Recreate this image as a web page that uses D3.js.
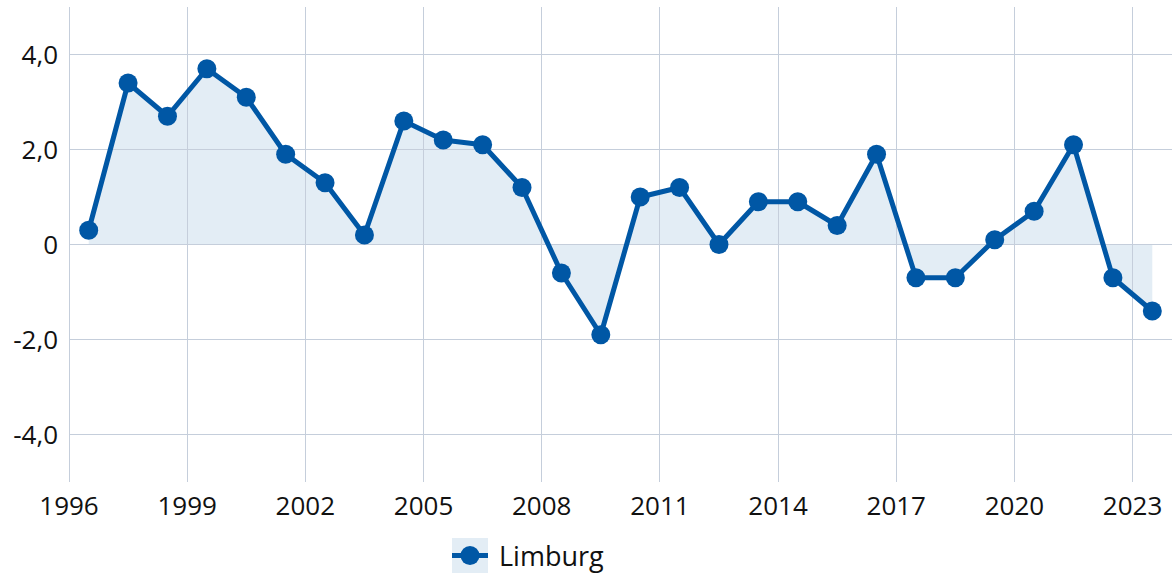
<!DOCTYPE html>
<html><head><meta charset="utf-8">
<script src="https://cdn.jsdelivr.net/npm/d3@7"></script>
<style>
body{margin:0;background:#fff;}
svg{display:block;font-family:"Open Sans","Noto Sans",sans-serif;}
</style></head>
<body>
<svg id="chart" width="1172" height="575"></svg>
<script>
const years = [1996,1997,1998,1999,2000,2001,2002,2003,2004,2005,2006,2007,2008,2009,2010,2011,2012,2013,2014,2015,2016,2017,2018,2019,2020,2021,2022,2023];
const values = [0.3,3.4,2.7,3.7,3.1,1.9,1.3,0.2,2.6,2.2,2.1,1.2,-0.6,-1.9,1.0,1.2,0.0,0.9,0.9,0.4,1.9,-0.7,-0.7,0.1,0.7,2.1,-0.7,-1.4];
const xTicks = [1996,1999,2002,2005,2008,2011,2014,2017,2020,2023];
const yTicks = [-4,-2,0,2,4];
const yTickLabels = ["-4,0","-2,0","0","2,0","4,0"];
const seriesName = "Limburg";

const color = "#0057a5";
const svg = d3.select("#chart");
const m = {left:69, right:1172, top:7, bottom:482};
const x = d3.scaleLinear().domain([1996,2024]).range([m.left, m.right]);
const y = d3.scaleLinear().domain([-5,5]).range([m.bottom, m.top]);
const data = years.map((yr,i)=>({x:yr+0.5, v:values[i]}));

// fill
svg.append("path").datum(data)
  .attr("d", d3.area().x(d=>x(d.x)).y0(y(0)).y1(d=>y(d.v)))
  .attr("fill", color).attr("fill-opacity", 0.11);

// grid
const g = svg.append("g");
g.selectAll("line.h").data(yTicks).join("line")
  .attr("x1", m.left).attr("x2", m.right)
  .attr("y1", d=>y(d)).attr("y2", d=>y(d))
  .attr("stroke", "#c5cedb").attr("stroke-width", 1).attr("shape-rendering","crispEdges");
g.selectAll("line.v").data(xTicks).join("line")
  .attr("x1", d=>x(d)).attr("x2", d=>x(d))
  .attr("y1", m.top).attr("y2", m.bottom)
  .attr("stroke", "#c5cedb").attr("stroke-width", 1).attr("shape-rendering","crispEdges");

// axes labels
svg.append("g").selectAll("text").data(yTicks).join("text")
  .attr("x", 58).attr("y", d=>y(d)).attr("dy","0.35em")
  .attr("text-anchor","end").attr("font-size", 26).attr("fill","#111")
  .text((d,i)=>yTickLabels[i]);
svg.append("g").selectAll("text").data(xTicks).join("text")
  .attr("x", d=>x(d)).attr("y", 515)
  .attr("text-anchor","middle").attr("font-size", 26).attr("fill","#111")
  .text(d=>d);

// line
svg.append("path").datum(data)
  .attr("d", d3.line().x(d=>x(d.x)).y(d=>y(d.v)))
  .attr("fill","none").attr("stroke", color).attr("stroke-width", 5).attr("stroke-linejoin","round");
svg.append("g").selectAll("circle").data(data).join("circle")
  .attr("cx", d=>x(d.x)).attr("cy", d=>y(d.v)).attr("r", 9.5).attr("fill", color);

// legend
const lg = svg.append("g").attr("transform","translate(452,538)");
lg.append("rect").attr("width",36).attr("height",35).attr("fill",color).attr("fill-opacity",0.11);
lg.append("line").attr("x1",0).attr("x2",36).attr("y1",17.5).attr("y2",17.5).attr("stroke",color).attr("stroke-width",5);
lg.append("circle").attr("cx",18).attr("cy",17.5).attr("r",9.5).attr("fill",color);
lg.append("text").attr("x",47).attr("y",28).attr("font-size",27).attr("fill","#111").text(seriesName);
</script>
</body></html>
